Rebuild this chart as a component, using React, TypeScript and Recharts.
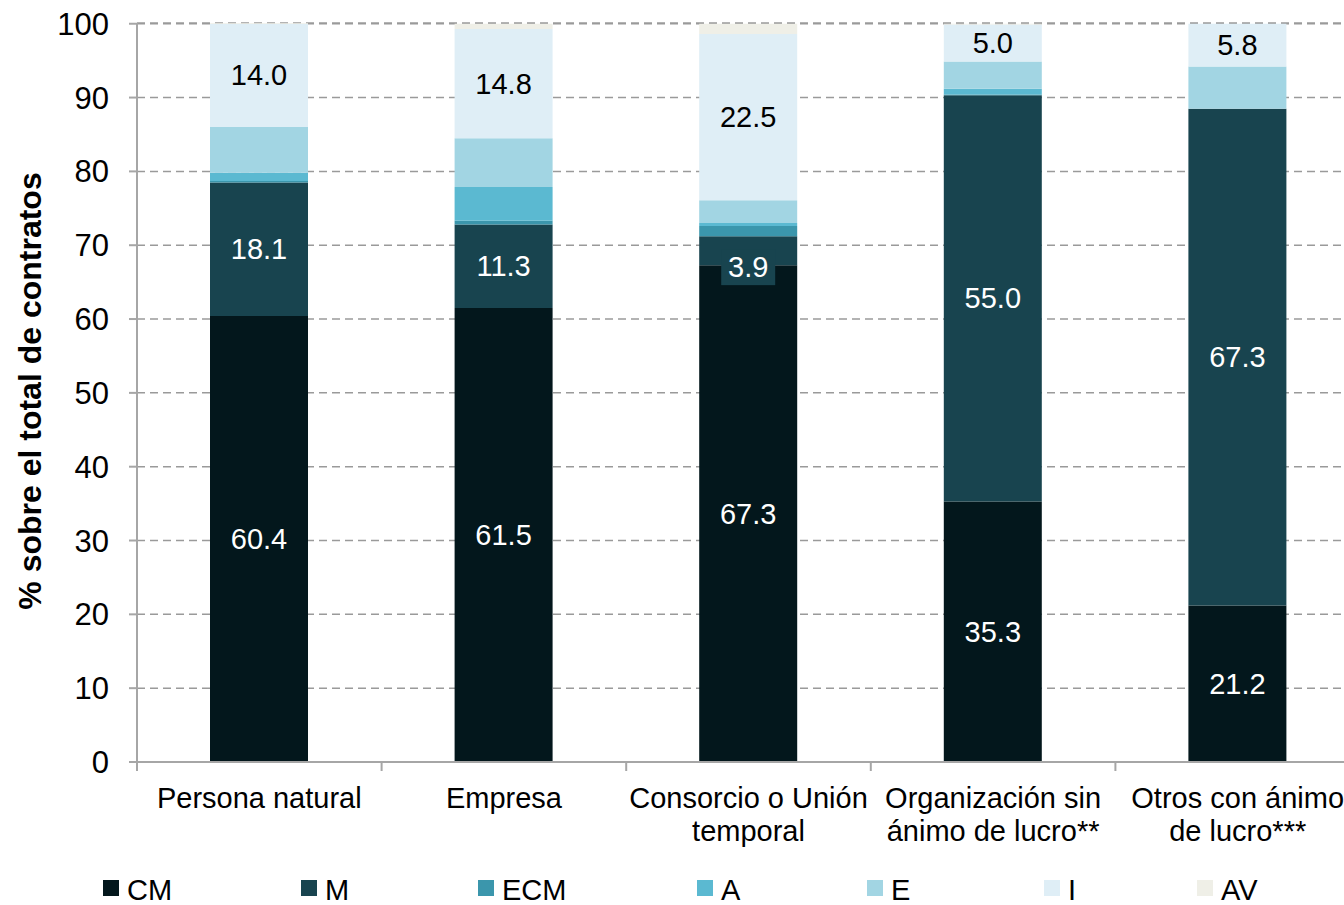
import React from 'react';
import { BarChart, Bar, XAxis, YAxis, CartesianGrid, LabelList } from 'recharts';

const categories = [
  'Persona natural',
  'Empresa',
  'Consorcio o Unión temporal',
  'Organización sin ánimo de lucro**',
  'Otros con ánimo de lucro***',
];
const categoryLines = [
  ['Persona natural'],
  ['Empresa'],
  ['Consorcio o Unión', 'temporal'],
  ['Organización sin', 'ánimo de lucro**'],
  ['Otros con ánimo', 'de lucro***'],
];

const CM = [60.4, 61.5, 67.3, 35.3, 21.2];
const M = [18.1, 11.3, 3.9, 55.0, 67.3];
const ECM = [0.2, 0.5, 1.4, 0.1, 0.0];
const A = [1.1, 4.6, 0.4, 0.8, 0.0];
const E = [6.2, 6.6, 3.1, 3.7, 5.7];
const I = [14.0, 14.8, 22.5, 5.0, 5.8];
const AV = [0.1, 0.7, 1.4, 0.1, 0.0];

const seriesNames = ['CM', 'M', 'ECM', 'A', 'E', 'I', 'AV'];
const seriesValues = [CM, M, ECM, A, E, I, AV];
const seriesColors = ['#03171c', '#18444f', '#3b96ac', '#5bb9d1', '#a2d5e3', '#dfeef6', '#efefe7'];
const yTicks = [0, 10, 20, 30, 40, 50, 60, 70, 80, 90, 100];
const labeledSeries = ['CM', 'M', 'I'];

const legendX = [103, 301, 478, 697, 867, 1044, 1197];

const data = categories.map((c, i) => {
  const row: Record<string, any> = { name: c, idx: i };
  seriesNames.forEach((s, k) => {
    row[s] = seriesValues[k][i];
  });
  return row;
});

const FONT = '"Liberation Sans", Arial, Helvetica, sans-serif';
const CHART_W = 1380;
const MARGIN = { top: 23, right: 20, bottom: 0, left: 0 };
const Y_W = 137;
const BAND = (CHART_W - MARGIN.right - Y_W) / categories.length;

const XTick = (props: any) => {
  const { x, y, payload } = props;
  const lines = categoryLines[payload.index] || [payload.value];
  const bx = x - BAND / 2;
  return (
    <g>
      <line x1={bx} y1={y} x2={bx} y2={y + 9} stroke="#a6a6a6" strokeWidth={2} />
      {payload.index === categories.length - 1 && (
        <line x1={x + BAND / 2} y1={y} x2={x + BAND / 2} y2={y + 9} stroke="#a6a6a6" strokeWidth={2} />
      )}
      {lines.map((l: string, k: number) => (
        <text key={k} x={x} y={y + 46 + k * 33} textAnchor="middle" fontSize={29} fontFamily={FONT} fill="#000">
          {l}
        </text>
      ))}
    </g>
  );
};

const makeLabel = (series: string) => (props: any) => {
  const { x, y, width, height, value } = props;
  if (value === undefined || value === null) return null;
  const cx = x + width / 2;
  const txt = Number(value).toFixed(1);
  const color = series === 'I' ? '#000' : '#fff';
  if (series === 'M' && height < 35) {
    const cy = y + height + 2;
    return (
      <g>
        <rect x={cx - 27} y={cy - 18} width={54} height={36} fill={seriesColors[1]} />
        <text x={cx} y={cy} textAnchor="middle" dominantBaseline="central" fontSize={29} fontFamily={FONT} fill={color}>
          {txt}
        </text>
      </g>
    );
  }
  return (
    <text x={cx} y={y + height / 2} textAnchor="middle" dominantBaseline="central" fontSize={29} fontFamily={FONT} fill={color}>
      {txt}
    </text>
  );
};

const YTitle = () => (
  <text
    x={30}
    y={391}
    transform="rotate(-90 30 391)"
    textAnchor="middle"
    dominantBaseline="central"
    fontSize={32}
    fontWeight="bold"
    fontFamily={FONT}
    fill="#000"
  >
    % sobre el total de contratos
  </text>
);

export default function App() {
  return (
    <div
      style={{
        position: 'absolute',
        left: 0,
        top: 0,
        width: 1344,
        height: 905,
        overflow: 'hidden',
        background: '#fff',
        fontFamily: FONT,
      }}
    >
      <BarChart width={CHART_W} height={905} data={data} margin={MARGIN} barSize={98}>
        <CartesianGrid vertical={false} stroke="#9a9a9a" strokeDasharray="8 5" strokeWidth={1.5} />
        <XAxis
          dataKey="name"
          height={143}
          interval={0}
          tickLine={false}
          tickSize={0}
          tickMargin={0}
          tick={<XTick />}
          axisLine={{ stroke: '#a6a6a6', strokeWidth: 2 }}
        />
        <YAxis
          width={Y_W}
          domain={[0, 100]}
          ticks={yTicks}
          interval={0}
          tickSize={8}
          tickMargin={20}
          tick={{ fontSize: 31, fill: '#000', fontFamily: FONT }}
          tickLine={{ stroke: '#a6a6a6', strokeWidth: 2 }}
          axisLine={{ stroke: '#a6a6a6', strokeWidth: 2 }}
          label={{ content: () => <YTitle /> }}
        />
        {seriesNames.map((s, k) => (
          <Bar key={s} dataKey={s} stackId="a" fill={seriesColors[k]} isAnimationActive={false}>
            {labeledSeries.includes(s) && <LabelList dataKey={s} content={makeLabel(s)} />}
          </Bar>
        ))}
      </BarChart>
      <svg width={1344} height={905} style={{ position: 'absolute', left: 0, top: 0, pointerEvents: 'none' }}>
        {seriesNames.map((s, k) => (
          <g key={s}>
            <rect x={legendX[k]} y={880} width={16} height={16} fill={seriesColors[k]} />
            <text x={legendX[k] + 24} y={900} fontSize={29} fontFamily={FONT} fill="#000">
              {s}
            </text>
          </g>
        ))}
      </svg>
    </div>
  );
}
